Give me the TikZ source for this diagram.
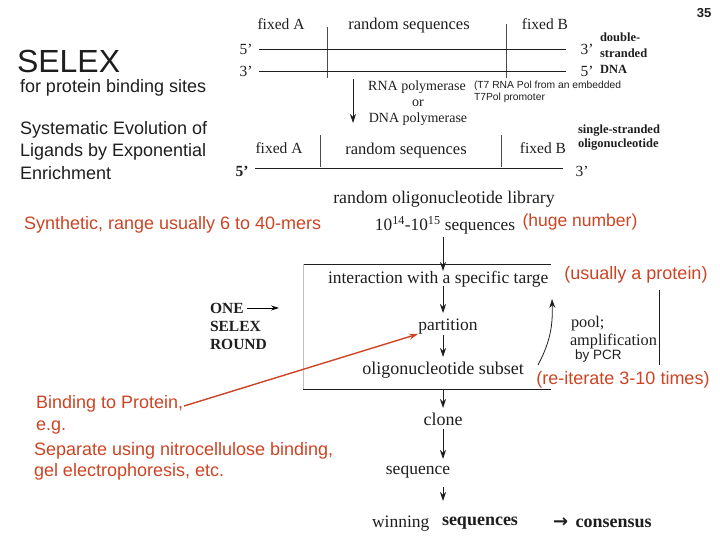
\documentclass[tikz,border=0pt]{standalone}
\usepackage{fontspec}
\setmainfont{Liberation Serif}
\newfontfamily\arial{Liberation Sans}
\newfontfamily\djv{DejaVu Sans}
\usetikzlibrary{arrows.meta,calc}
\definecolor{redtxt}{RGB}{205,68,36}
\definecolor{ink}{RGB}{30,30,30}
\begin{document}
\begin{tikzpicture}[x=1pt,y=-1pt,
  every node/.style={inner sep=0pt, outer sep=0pt, text=ink},
  sertop/.style={font=\fontsize{15.5}{15.5}\selectfont},
  ser/.style={font=\fontsize{17.5}{17.5}\selectfont},
  sers/.style={font=\fontsize{14}{14}\selectfont},
  serb/.style={font=\fontsize{15.5}{15.5}\selectfont\bfseries},
  tiny/.style={font=\fontsize{12.5}{12.5}\selectfont\bfseries},
  sans/.style={font=\arial\fontsize{18}{18}\selectfont},
  redsans/.style={font=\arial\fontsize{18}{18}\selectfont, text=redtxt},
  arr/.style={draw=ink, line width=0.8pt, -{Stealth[length=9pt,width=6pt]}},
  strand/.style={draw=ink, line width=0.9pt},
  tick/.style={draw=ink!80, line width=0.5pt}]
\useasboundingbox (0,0) rectangle (720,540);

% page number
\node[font=\arial\bfseries\fontsize{13}{13}\selectfont] (pg) at (704,13) {35};

% titles
\node[anchor=west, font=\arial\fontsize{32}{32}\selectfont] (title) at (17,61) {SELEX};
\node[anchor=west, font=\arial\fontsize{18}{18}\selectfont] (sub) at (20,88) {for protein binding sites};
\node[anchor=west, sans] (sy1) at (20,130) {Systematic Evolution of};
\node[anchor=west, sans] (sy2) at (20,152) {Ligands by Exponential};
\node[anchor=west, sans] (sy3) at (20,173) {Enrichment};

% double-stranded template
\node[sertop, anchor=base] (fA) at (281,30) {fixed A};
\node[font=\fontsize{16.5}{16.5}\selectfont, anchor=base] (rs) at (409,30) {random sequences};
\node[sertop, anchor=base] (fB) at (545,30) {fixed B};
\coordinate (d1t) at (327,27); \coordinate (d1b) at (327,78);
\coordinate (d2t) at (506,24); \coordinate (d2b) at (506,78);
\draw[tick] (d1t) -- (d1b);
\draw[tick] (d2t) -- (d2b);
\node[sertop] (l5) at (246,49) {5’};
\node[sertop] (l3) at (246,71) {3’};
\node[sertop] (r3) at (587,49) {3’};
\node[sertop] (r5) at (587,71) {5’};
\draw[strand] ([xshift=7pt]l5.east) -- ([xshift=-15pt]r3.west |- l5.east);
\draw[strand] ([xshift=7pt]l3.east) -- ([xshift=-15pt]r5.west |- l3.east);
\node[tiny, anchor=west] (ds1) at (600,37) {double-};
\node[tiny, anchor=west] (ds2) at (600,53) {stranded};
\node[tiny, anchor=west] (ds3) at (600,69) {DNA};

% polymerase step
\coordinate (pa) at (353,79); \coordinate (pb) at (353,123);
\draw[arr] (pa) -- (pb);
\node[sers] (rnap) at (417,87) {RNA polymerase};
\node[sers] (or) at (418,103) {or};
\node[sers] (dnap) at (418,119) {DNA polymerase};
\node[anchor=west, font=\arial\fontsize{10.3}{10.3}\selectfont] (t7a) at (474,86) {(T7 RNA Pol from an embedded};
\node[anchor=west, font=\arial\fontsize{10.3}{10.3}\selectfont] (t7b) at (474,98) {T7Pol promoter};

% single-stranded oligo
\node[sertop, anchor=base] (fA2) at (279,154) {fixed A};
\node[font=\fontsize{16.5}{16.5}\selectfont, anchor=base] (rs2) at (406,155) {random sequences};
\node[sertop, anchor=base] (fB2) at (543,154) {fixed B};
\coordinate (e1t) at (320,135); \coordinate (e1b) at (320,167);
\coordinate (e2t) at (501,135); \coordinate (e2b) at (501,167);
\draw[tick] (e1t) -- (e1b);
\draw[tick] (e2t) -- (e2b);
\node[font=\fontsize{15.5}{15.5}\selectfont\bfseries] (s5) at (242,171) {5’};
\node[sertop] (s3) at (582,171) {3’};
\coordinate (sa) at (255,168); \coordinate (sb) at (563,168);
\draw[strand] (sa) -- (sb);
\node[tiny, anchor=west] (ss1) at (578,131) {single-stranded};
\node[tiny, anchor=west] (ss2) at (578,145) {oligonucleotide};

% library
\node[font=\fontsize{17.8}{17.8}\selectfont] (lib) at (444,199) {random oligonucleotide library};
\node[font=\fontsize{17.3}{17.3}\selectfont] (seqs) at (445,225) {10\textsuperscript{14}-10\textsuperscript{15} sequences};
\node[redsans, font=\arial\fontsize{17.5}{17.5}\selectfont] (huge) at (580,222) {(huge number)};
\node[redsans, anchor=west] (synth) at (24,225) {Synthetic, range usually 6 to 40-mers};

% selex round box
\coordinate (ax) at (443,0);
\coordinate (bx1) at (303,264); \coordinate (bx2) at (551,264);
\coordinate (bx3) at (303,389); \coordinate (bx4) at (551,389);
\draw[line width=0.9pt, draw=ink] (bx1) -- (bx2);
\draw[line width=0.9pt, draw=ink] (bx3) -- (bx4);
\draw[line width=0.6pt, draw=black!25] (bx1) -- (bx3);

\node[ser, anchor=west] (inter) at (328,279) {interaction with a specific targe};
\node[ser] (part) at (448,327) {partition};
\node[ser, font=\fontsize{18}{18}\selectfont] (subset) at (443,370) {oligonucleotide subset};
\node[redsans] (prot) at (636,275) {(usually a protein)};

\draw[arr] ($(seqs.center -| ax)+(0,12)$) -- ($(inter.center -| ax)+(0,-8)$);
\draw[arr] ($(inter.center -| ax)+(0,7)$) -- ($(part.center -| ax)+(0,-14)$);
\draw[arr] ($(part.center -| ax)+(0,8)$) -- ($(subset.center -| ax)+(0,-13)$);

\node[serb, anchor=west] (one) at (210,308) {ONE};
\node[serb, anchor=west] (selex) at (210,326) {SELEX};
\node[serb, anchor=west] (round) at (210,344) {ROUND};
\coordinate (onearr) at (279,308);
\draw[line width=0.8pt, -{Stealth[length=8pt,width=5pt]}] ([xshift=3pt]one.east) -- (onearr);

% amplification loop
\coordinate (la) at (538,365); \coordinate (lb) at (552,299);
\draw[arr] (la) to[out=62,in=-88] (lb);
\node[font=\fontsize{16.3}{16.3}\selectfont, anchor=west] (pool) at (571,324) {pool;};
\node[font=\fontsize{16.3}{16.3}\selectfont, anchor=west] (ampl) at (570,341) {amplification};
\node[anchor=west, font=\arial\fontsize{13.5}{13.5}\selectfont] (pcr) at (575,356) {by PCR};
\coordinate (va) at (659,290); \coordinate (vb) at (659,365);
\draw[line width=0.8pt, draw=ink] (va) -- (vb);
\node[redsans] (reit) at (623,380) {(re-iterate 3-10 times)};

% red pointer
\node[redsans, anchor=west] (bind) at (36,404) {Binding to Protein,};
\node[redsans, anchor=west] (eg) at (36,428) {e.g.};
\node[redsans, anchor=west] (sep) at (34,451) {Separate using nitrocellulose binding,};
\node[redsans, anchor=west] (gel) at (34,472) {gel electrophoresis, etc.};
\coordinate (rtip) at (418,334);
\draw[draw=redtxt, line width=1.4pt, -{Stealth[length=9pt,width=6pt]}] ([xshift=1pt,yshift=-2pt]bind.east) -- (rtip);

% post-round steps
\node[ser, font=\fontsize{18}{18}\selectfont] (clone) at (443,419) {clone};
\node[ser] (seq) at (418,472) {sequence};
\node[ser, anchor=west] (win) at (372,524) {winning};
\node[font=\fontsize{18}{18}\selectfont\bfseries, anchor=west] (wseq) at (442,523) {sequences};
\node[font=\fontsize{18}{18}\selectfont\bfseries, anchor=west] (cons) at (553,523) {{\djv\bfseries →}\, consensus};

\draw[arr] ($(subset.center -| ax)+(0,19)$) -- ($(clone.center -| ax)+(0,-11)$);
\draw[arr] ($(clone.center -| ax)+(0,10)$) -- ($(seq.center -| ax)+(0,-13)$);
\draw[arr] ($(seq.center -| ax)+(0,15)$) -- ($(win.center -| ax)+(0,-23)$);
\end{tikzpicture}
\end{document}
